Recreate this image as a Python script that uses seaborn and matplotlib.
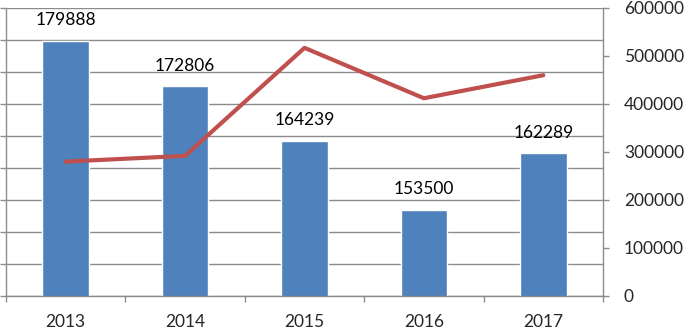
import matplotlib
matplotlib.use("Agg")
import matplotlib.pyplot as plt
import seaborn as sns
import numpy as np
import pandas as pd

years = ["2013", "2014", "2015", "2016", "2017"]
bar_values = [179888, 172806, 164239, 153500, 162289]
line_values = [280000, 292000, 517000, 412000, 460000]

sns.set_theme(style="white")
plt.rcParams['font.family'] = ['Lato', 'DejaVu Sans']

fig = plt.figure(figsize=(6.86, 3.31), dpi=100)
ax = fig.add_axes([6/686, 35/331, (603-6)/686, (296-8)/331])

df = pd.DataFrame({"year": years, "bar": bar_values, "line": line_values})
sns.barplot(data=df, x="year", y="bar", ax=ax, color="#4F81BD", saturation=1,
            width=0.39, zorder=2)
ax.set_ylim(140000, 185000)
ax.set_yticks(np.arange(140000, 185001, 5000))
ax.set_yticklabels([])
ax.grid(axis="y", color="#8c8c8c", linewidth=1, zorder=0)
ax.set_axisbelow(True)
ax.set_xlim(-0.5, len(years) - 0.5)
ax.set_xlabel("")
ax.set_ylabel("")
ax.bar_label(ax.containers[0], labels=[str(v) for v in bar_values], padding=9,
             fontsize=12.5, color="black")

ax.tick_params(axis="y", left=True, length=4, color="#8c8c8c", width=1)
ax.set_xticks(range(len(years)))
ax.set_xticklabels(years, fontsize=12.5)
ax.tick_params(axis="x", which="major", length=0, pad=13)
ax.set_xticks(np.arange(-0.5, len(years), 1.0), minor=True)
ax.tick_params(axis="x", which="minor", bottom=True, length=4, color="#8c8c8c", width=1)
for s in ["top", "right"]:
    ax.spines[s].set_visible(False)
for s in ["left", "bottom"]:
    ax.spines[s].set_color("#8c8c8c")
    ax.spines[s].set_linewidth(1)

ax2 = ax.twinx()
sns.lineplot(x=np.arange(len(years)), y=line_values, ax=ax2, color="#C0504D",
             linewidth=3, zorder=3)
ax2.set_ylim(0, 600000)
ax2.set_yticks(np.arange(0, 600001, 100000))
ax2.set_yticklabels([str(int(v)) for v in np.arange(0, 600001, 100000)], fontsize=12.5)
ax2.tick_params(axis="y", right=True, length=4, color="#8c8c8c", width=1, pad=11)
for s in ["top", "left", "bottom"]:
    ax2.spines[s].set_visible(False)
ax2.spines["right"].set_color("#8c8c8c")
ax2.spines["right"].set_linewidth(1)
ax2.set_ylabel("")

fig.savefig("out.png", dpi=100)
